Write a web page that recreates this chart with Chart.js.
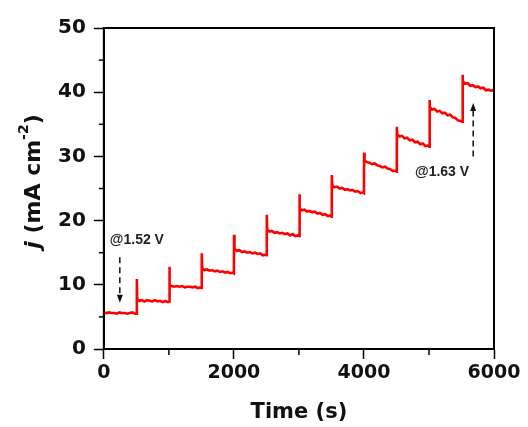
<!DOCTYPE html>
<html>
<head>
<meta charset="utf-8">
<script src="https://cdn.jsdelivr.net/npm/chart.js@4/dist/chart.umd.min.js"></script>
<style>
  html, body { margin: 0; padding: 0; background: #fff; }
  #wrap { width: 528px; height: 427px; }
</style>
</head>
<body>
<div id="wrap"><canvas id="jtChart" width="528" height="427"></canvas></div>
<script>
// chronoamperometry steps
const timeS = [
  0, 40, 80, 120, 160, 200, 240, 280, 320, 360, 400, 440, 480, 505,
  508, 514, 545, 585, 625, 665, 705, 745, 785, 825, 865, 905, 945, 985, 1005,
  1008, 1014, 1045, 1085, 1125, 1165, 1205, 1245, 1285, 1325, 1365, 1405, 1445, 1485, 1503,
  1506, 1512, 1545, 1585, 1625, 1665, 1705, 1745, 1785, 1825, 1865, 1905, 1945, 1985, 2000,
  2003, 2009, 2045, 2085, 2125, 2165, 2205, 2245, 2285, 2325, 2365, 2405, 2445, 2485, 2503,
  2506, 2512, 2545, 2585, 2625, 2665, 2705, 2745, 2785, 2825, 2865, 2905, 2945, 2985, 3005,
  3008, 3014, 3045, 3085, 3125, 3165, 3205, 3245, 3285, 3325, 3365, 3405, 3445, 3485, 3503,
  3506, 3512, 3545, 3585, 3625, 3665, 3705, 3745, 3785, 3825, 3865, 3905, 3945, 3985, 4000,
  4003, 4009, 4045, 4085, 4125, 4165, 4205, 4245, 4285, 4325, 4365, 4405, 4445, 4485, 4503,
  4506, 4512, 4545, 4585, 4625, 4665, 4705, 4745, 4785, 4825, 4865, 4905, 4945, 4985, 5005,
  5008, 5014, 5045, 5085, 5125, 5165, 5205, 5245, 5285, 5325, 5365, 5405, 5445, 5485, 5513,
  5516, 5522, 5555, 5595, 5635, 5675, 5715, 5755, 5795, 5835, 5875, 5915, 5955, 6000
];
const currentJ = [
  5.7, 5.6, 5.7, 5.6, 5.6, 5.5, 5.7, 5.6, 5.6, 5.5, 5.6, 5.7, 5.5, 5.5,
  10.9, 7.8, 7.5, 7.6, 7.4, 7.6, 7.5, 7.4, 7.6, 7.4, 7.5, 7.3, 7.5, 7.3, 7.4,
  12.8, 9.9, 9.8, 9.7, 9.8, 9.7, 9.8, 9.6, 9.7, 9.7, 9.6, 9.7, 9.5, 9.6, 9.5,
  14.9, 12.6, 12.3, 12.4, 12.2, 12.3, 12.1, 12.2, 12.0, 12.1, 11.9, 12.0, 11.8, 11.9, 11.8,
  17.8, 15.6, 15.3, 15.4, 15.1, 15.2, 15.0, 15.1, 14.9, 15.0, 14.8, 14.9, 14.6, 14.7, 14.6,
  20.9, 18.6, 18.3, 18.4, 18.1, 18.2, 18.0, 18.1, 17.9, 18.0, 17.7, 17.9, 17.6, 17.7, 17.6,
  24.1, 21.9, 21.6, 21.7, 21.4, 21.5, 21.3, 21.4, 21.1, 21.2, 20.9, 21.0, 20.7, 20.8, 20.6,
  27.1, 25.5, 25.2, 25.3, 25.0, 25.1, 24.8, 24.9, 24.7, 24.8, 24.5, 24.6, 24.3, 24.4, 24.3,
  30.6, 29.4, 29.1, 29.0, 28.8, 28.9, 28.6, 28.5, 28.3, 28.4, 28.1, 28.0, 27.7, 27.8, 27.6,
  34.6, 33.5, 33.1, 33.2, 32.8, 32.9, 32.5, 32.6, 32.2, 32.3, 31.9, 32.0, 31.6, 31.7, 31.5,
  38.8, 37.7, 37.3, 37.4, 37.0, 37.1, 36.7, 36.8, 36.4, 36.5, 36.1, 36.0, 35.6, 35.5, 35.4,
  42.7, 41.8, 41.3, 41.4, 41.0, 41.1, 40.8, 40.9, 40.6, 40.7, 40.3, 40.4, 40.2, 40.4
];
const xTickLabels = [0, 2000, 4000, 6000];
const yTickLabels = [0, 10, 20, 30, 40, 50];

const tickFont = { family: 'DejaVu Sans', weight: 'bold', size: 19 };

// minor ticks, frame, y title and the two potential markers
const decorPlugin = {
    id: 'decor',
    afterDraw(chart) {
        const ctx = chart.ctx;
        const area = chart.chartArea;
        const xs = chart.scales.x;
        const ys = chart.scales.y;
        ctx.save();
        ctx.strokeStyle = '#000';
        ctx.lineWidth = 2;
        ctx.strokeRect(area.left, area.top, area.right - area.left, area.bottom - area.top);

        ctx.lineWidth = 1.5;
        xs.ticks.forEach(t => {
            if (xTickLabels.includes(t.value)) return;
            const px = xs.getPixelForValue(t.value);
            ctx.beginPath();
            ctx.moveTo(px, area.bottom);
            ctx.lineTo(px, area.bottom + 6);
            ctx.stroke();
        });
        ys.ticks.forEach(t => {
            if (yTickLabels.includes(t.value)) return;
            const py = ys.getPixelForValue(t.value);
            ctx.beginPath();
            ctx.moveTo(area.left, py);
            ctx.lineTo(area.left - 5, py);
            ctx.stroke();
        });

        // y axis title with italic j and superscript
        const parts = [
            { text: 'j', font: 'italic bold 22px "DejaVu Sans"', rise: 0 },
            { text: ' (mA cm', font: 'bold 22px "DejaVu Sans"', rise: 0 },
            { text: '-2', font: 'bold 14px "DejaVu Sans"', rise: 9 },
            { text: ')', font: 'bold 22px "DejaVu Sans"', rise: 0 }
        ];
        let total = 0;
        parts.forEach(p => { ctx.font = p.font; p.w = ctx.measureText(p.text).width; total += p.w; });
        ctx.translate(area.left - 70, (area.top + area.bottom) / 2 - 7);
        ctx.rotate(-Math.PI / 2);
        ctx.fillStyle = '#111';
        ctx.textBaseline = 'middle';
        let cx = -total / 2;
        parts.forEach(p => {
            ctx.font = p.font;
            ctx.fillText(p.text, cx, -p.rise);
            cx += p.w;
        });
        ctx.setTransform(1, 0, 0, 1, 0, 0);

        // annotations
        ctx.fillStyle = '#222';
        ctx.font = 'bold 14px "Liberation Sans"';
        ctx.textBaseline = 'middle';
        ctx.textAlign = 'left';
        ctx.fillText('@1.52 V', xs.getPixelForValue(92), ys.getPixelForValue(17.0));
        ctx.fillText('@1.63 V', xs.getPixelForValue(4785), ys.getPixelForValue(27.6));

        function dashedArrow(t, fromV, toV) {
            const x = xs.getPixelForValue(t);
            const y0 = ys.getPixelForValue(fromV);
            const y1 = ys.getPixelForValue(toV);
            const dir = y1 > y0 ? 1 : -1;
            ctx.strokeStyle = '#111';
            ctx.lineWidth = 1.5;
            ctx.setLineDash([6, 4]);
            ctx.beginPath();
            ctx.moveTo(x, y0);
            ctx.lineTo(x, y1 - dir * 6);
            ctx.stroke();
            ctx.setLineDash([]);
            ctx.fillStyle = '#111';
            ctx.beginPath();
            ctx.moveTo(x, y1);
            ctx.lineTo(x - 3, y1 - dir * 8);
            ctx.lineTo(x + 3, y1 - dir * 8);
            ctx.closePath();
            ctx.fill();
        }
        dashedArrow(246, 14.3, 7.2);
        dashedArrow(5680, 30.0, 38.3);
        ctx.restore();
    }
};

const ctx = document.getElementById('jtChart').getContext('2d');
const jtChart = new Chart(ctx, {
    type: 'line',
    data: {
        datasets: [{
            data: timeS.map((t, i) => ({ x: t, y: currentJ[i] })),
            borderColor: '#ff0000',
            borderWidth: 2.6,
            pointRadius: 0,
            tension: 0,
            fill: false
        }]
    },
    options: {
        responsive: false,
        animation: false,
        layout: { padding: { left: 50, right: 34, top: 28, bottom: 2 } },
        plugins: {
            legend: { display: false },
            tooltip: { enabled: false }
        },
        scales: {
            x: {
                type: 'linear',
                min: 0,
                max: 6000,
                border: { display: true, color: '#000', width: 2 },
                grid: {
                    display: true,
                    drawOnChartArea: false,
                    drawTicks: true,
                    tickLength: 10,
                    tickWidth: 1.5,
                    tickColor: c => xTickLabels.includes(c.tick.value) ? '#000' : 'rgba(0,0,0,0)'
                },
                ticks: {
                    stepSize: 1000,
                    autoSkip: false,
                    maxRotation: 0,
                    padding: 3,
                    color: '#111',
                    font: tickFont,
                    callback: v => xTickLabels.includes(v) ? String(v) : ''
                },
                title: {
                    display: true,
                    text: 'Time (s)',
                    color: '#111',
                    font: { family: 'DejaVu Sans', weight: 'bold', size: 21 },
                    padding: { top: 12, bottom: 0 }
                }
            },
            y: {
                type: 'linear',
                min: 0,
                max: 50,
                border: { display: true, color: '#000', width: 2 },
                grid: {
                    display: true,
                    drawOnChartArea: false,
                    drawTicks: true,
                    tickLength: 10,
                    tickWidth: 1.5,
                    tickColor: c => yTickLabels.includes(c.tick.value) ? '#000' : 'rgba(0,0,0,0)'
                },
                ticks: {
                    stepSize: 5,
                    autoSkip: false,
                    padding: 8,
                    color: '#111',
                    font: { family: 'DejaVu Sans', weight: 'bold', size: 20 },
                    callback: v => yTickLabels.includes(v) ? String(v) : ''
                }
            }
        }
    },
    plugins: [decorPlugin]
});
</script>
</body>
</html>
